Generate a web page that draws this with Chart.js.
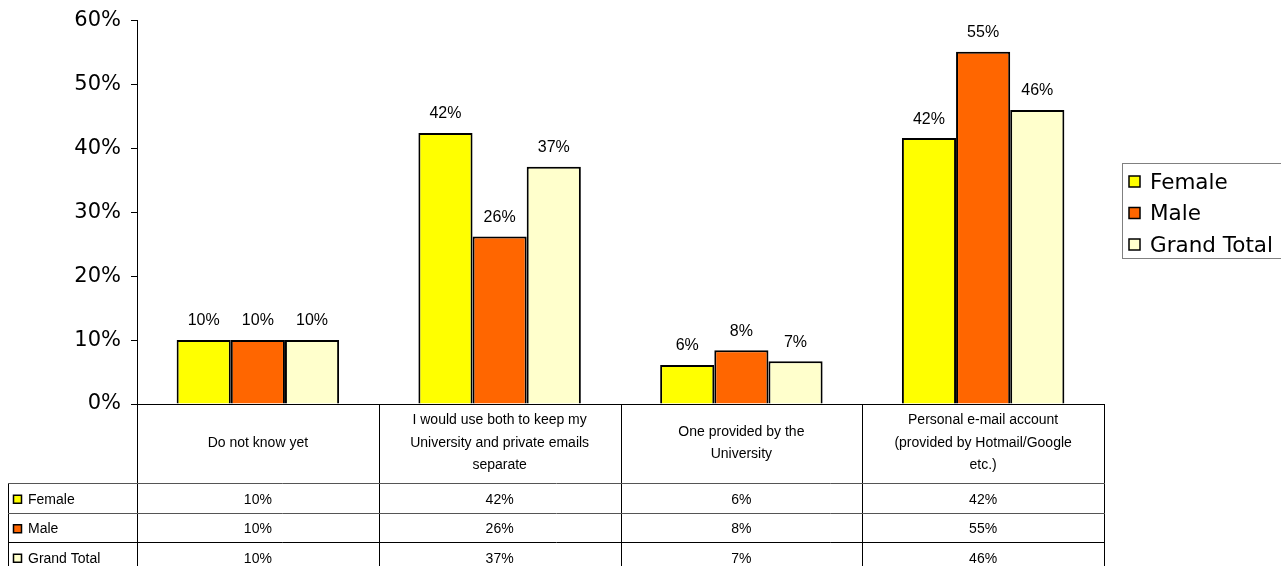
<!DOCTYPE html>
<html>
<head>
<meta charset="utf-8">
<script src="https://cdn.jsdelivr.net/npm/chart.js@4/dist/chart.umd.min.js"></script>
<style>
  body { margin: 0; background: #fff; }
  #wrap { width: 1281px; height: 566px; }
</style>
</head>
<body>
<div id="wrap"><canvas id="emailChart" width="1281" height="566"></canvas></div>
<script>
// categories (multi-line as shown in the data table header)
var categories = [
    ["Do not know yet"],
    ["I would use both to keep my", "University and private emails", "separate"],
    ["One provided by the", "University"],
    ["Personal e-mail account", "(provided by Hotmail/Google", "etc.)"]
];
var seriesNames = ["Female", "Male", "Grand Total"];
var femaleValues = [0.10, 0.424, 0.061, 0.416];
var maleValues = [0.10, 0.262, 0.084, 0.551];
var grandTotalValues = [0.10, 0.371, 0.067, 0.460];
var seriesColors = ["#FFFF00", "#FF6600", "#FFFFCC"];
var yMin = 0, yMax = 0.6, yStep = 0.1;

function pct(v) {
    return Math.round(v * 100) + "%";
}

var tableFont = "14px 'Liberation Sans', Arial, sans-serif";

// draws value labels, the data table under the plot and the legend box
var tablePlugin = {
    id: "dataTable",
    afterDraw: function(chart) {
        var ctx = chart.ctx;
        var area = chart.chartArea;
        var xs = chart.scales.x;
        var n = categories.length;
        var colW = (area.right - area.left) / n;
        var headerBottom = area.bottom + 79;
        var rowH = 29.5;
        var tableLeft = 8;
        var tableBottom = chart.height;

        ctx.save();

        // value labels above bars
        ctx.font = "16px 'Liberation Sans', Arial, sans-serif";
        ctx.fillStyle = "#000";
        ctx.textAlign = "center";
        ctx.textBaseline = "bottom";
        chart.data.datasets.forEach(function(ds, di) {
            var meta = chart.getDatasetMeta(di);
            meta.data.forEach(function(bar, i) {
                ctx.fillText(pct(ds.data[i]), bar.x, bar.y - 11);
            });
        });

        // table grid
        ctx.strokeStyle = "#000";
        ctx.lineWidth = 1;
        ctx.beginPath();
        for (var k = 0; k <= n; k++) {
            var x = Math.round(area.left + k * colW) + 0.5;
            ctx.moveTo(x, area.bottom);
            ctx.lineTo(x, tableBottom);
        }
        ctx.moveTo(tableLeft + 0.5, headerBottom);
        ctx.lineTo(tableLeft + 0.5, tableBottom);
        ctx.stroke();
        for (var r = 0; r < seriesNames.length; r++) {
            var y = Math.round(headerBottom + r * rowH) + 0.5;
            ctx.strokeStyle = r < 2 ? "#555" : "#000";
            ctx.beginPath();
            ctx.moveTo(tableLeft, y);
            ctx.lineTo(area.right + 1, y);
            ctx.stroke();
        }

        // header cells: category names
        ctx.font = tableFont;
        ctx.fillStyle = "#000";
        ctx.textBaseline = "middle";
        ctx.textAlign = "center";
        var lineH = 22.5;
        categories.forEach(function(lines, i) {
            var cx = xs.getPixelForValue(i);
            var cy = area.bottom + 39;
            var y0 = cy - (lines.length - 1) * lineH / 2;
            lines.forEach(function(t, j) {
                ctx.fillText(t, cx, y0 + j * lineH);
            });
        });

        // series rows
        chart.data.datasets.forEach(function(ds, di) {
            var cy = headerBottom + di * rowH + rowH / 2 + 2;
            ctx.fillStyle = ds.backgroundColor;
            ctx.fillRect(13.5, cy - 4.5, 8, 8);
            ctx.strokeStyle = "#000";
            ctx.lineWidth = 1.5;
            ctx.strokeRect(13.5, cy - 4.5, 8, 8);
            ctx.fillStyle = "#000";
            ctx.textAlign = "left";
            ctx.fillText(ds.label, 28, cy);
            ctx.textAlign = "center";
            ds.data.forEach(function(v, i) {
                ctx.fillText(pct(v), xs.getPixelForValue(i), cy);
            });
        });

        // legend
        var lgX = 1122.5, lgY = 163.5, lgW = 170, lgH = 95;
        ctx.strokeStyle = "#808080";
        ctx.lineWidth = 1;
        ctx.strokeRect(lgX, lgY, lgW, lgH);
        ctx.font = "21.5px 'DejaVu Sans', Verdana, sans-serif";
        ctx.textAlign = "left";
        chart.data.datasets.forEach(function(ds, di) {
            var cy = 182 + di * 31.5;
            ctx.fillStyle = ds.backgroundColor;
            ctx.fillRect(1129, cy - 6, 11, 11);
            ctx.strokeStyle = "#000";
            ctx.lineWidth = 1.5;
            ctx.strokeRect(1129, cy - 6, 11, 11);
            ctx.fillStyle = "#000";
            ctx.fillText(ds.label, 1150, cy + 1);
        });

        ctx.restore();
    }
};

var ctx = document.getElementById("emailChart").getContext("2d");
new Chart(ctx, {
    type: "bar",
    data: {
        labels: categories.map(function(c) { return c.join(" "); }),
        datasets: [
            { label: seriesNames[0], data: femaleValues, backgroundColor: seriesColors[0] },
            { label: seriesNames[1], data: maleValues, backgroundColor: seriesColors[1] },
            { label: seriesNames[2], data: grandTotalValues, backgroundColor: seriesColors[2] }
        ]
    },
    options: {
        responsive: false,
        animation: false,
        layout: { padding: { top: 17, right: 177, left: 0, bottom: 0 } },
        datasets: {
            bar: {
                categoryPercentage: 0.672,
                barPercentage: 1,
                borderColor: "#000",
                borderWidth: 2
            }
        },
        plugins: {
            legend: { display: false },
            tooltip: { enabled: false }
        },
        scales: {
            x: {
                ticks: { display: false },
                grid: { display: false },
                border: { display: true, color: "#000", width: 1 },
                afterFit: function(scale) { scale.height = 162; }
            },
            y: {
                min: yMin,
                max: yMax,
                ticks: {
                    stepSize: yStep,
                    color: "#000",
                    padding: 10,
                    font: { family: "'DejaVu Sans', Verdana, sans-serif", size: 21, lineHeight: 1 },
                    callback: function(v) { return pct(v); }
                },
                grid: {
                    display: true,
                    drawOnChartArea: false,
                    drawTicks: true,
                    tickLength: 6,
                    tickColor: "#000"
                },
                border: { display: true, color: "#000", width: 1 },
                afterFit: function(scale) { scale.width = 137; }
            }
        }
    },
    plugins: [tablePlugin]
});
</script>
</body>
</html>
